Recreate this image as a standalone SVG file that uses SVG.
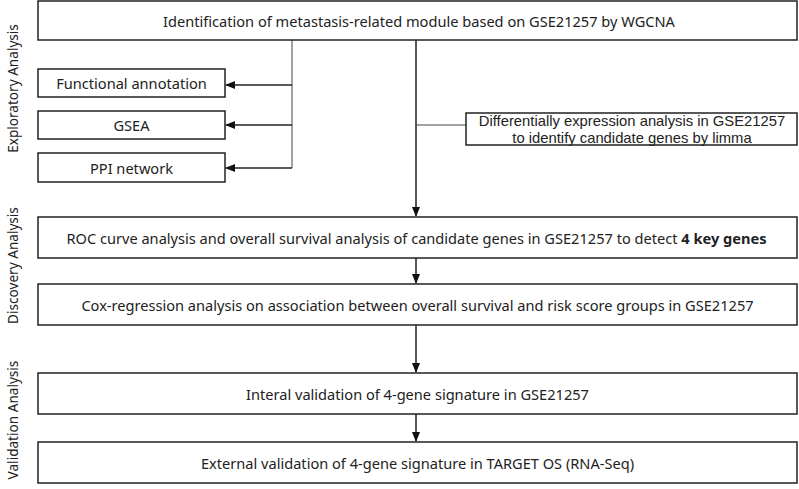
<svg xmlns="http://www.w3.org/2000/svg" width="799" height="489" viewBox="0 0 799 489">
<style>
.box{fill:#fff;stroke:#222;stroke-width:1.5}
.t{font-family:"Noto Sans","Liberation Sans",sans-serif;font-size:14.6px;fill:#222;text-anchor:middle;dominant-baseline:central}
.de{font-family:"Liberation Sans","Noto Sans",sans-serif;font-size:14.8px}
.side{font-family:"Noto Sans","Liberation Sans",sans-serif;font-size:13.6px;fill:#222;text-anchor:middle;dominant-baseline:central}
.ln{fill:none;stroke:#222;stroke-width:1.5}
.thin{fill:none;stroke:#444;stroke-width:1}
</style>
<defs>
<marker id="ah" markerWidth="10" markerHeight="8" refX="9" refY="4" orient="auto" markerUnits="userSpaceOnUse">
<path d="M0,0 L10,4 L0,8 Z" fill="#111"/>
</marker>
</defs>
<text class="side" transform="translate(12,88.5) rotate(-90)">Exploratory Analysis</text>
<text class="side" transform="translate(12,265.5) rotate(-90)">Discovery Analysis</text>
<text class="side" transform="translate(12,420) rotate(-90)">Validation Analysis</text>
<g id="connectors">
<path class="thin" d="M292,40 V168"/>
<path class="ln" d="M292,85 H226" marker-end="url(#ah)"/>
<path class="ln" d="M292,125 H226" marker-end="url(#ah)"/>
<path class="ln" d="M292,168 H226" marker-end="url(#ah)"/>
<path class="ln" d="M416,40 V216" marker-end="url(#ah)"/>
<path class="thin" d="M416,125 H466"/>
<path class="ln" d="M416,258 V283" marker-end="url(#ah)"/>
<path class="ln" d="M416,325 V372" marker-end="url(#ah)"/>
<path class="ln" d="M416,414 V441" marker-end="url(#ah)"/>
</g>
<g id="n-wgcna">
<rect class="box" x="38" y="1" width="759" height="39"/>
<text class="t" x="419" y="20.5">Identification of metastasis-related module based on GSE21257 by WGCNA</text>
</g>
<g id="n-func">
<rect class="box" x="38" y="69" width="187" height="28"/>
<text class="t" x="131.5" y="83">Functional annotation</text>
</g>
<g id="n-gsea">
<rect class="box" x="38" y="111" width="187" height="28"/>
<text class="t" x="131.5" y="125">GSEA</text>
</g>
<g id="n-ppi">
<rect class="box" x="38" y="153" width="187" height="29"/>
<text class="t" x="131.5" y="167.5">PPI network</text>
</g>
<g id="n-de">
<rect class="box" x="466" y="113" width="331" height="32"/>
<text class="t de" x="632" y="120.5">Differentially expression analysis in GSE21257</text>
<text class="t de" x="632" y="137.5">to identify candidate genes by limma</text>
</g>
<g id="n-roc">
<rect class="box" x="38" y="217" width="759" height="41"/>
<text class="t" x="416.5" y="237.5">ROC curve analysis and overall survival analysis of candidate genes in GSE21257 to detect <tspan font-weight="bold">4 key genes</tspan></text>
</g>
<g id="n-cox">
<rect class="box" x="38" y="284" width="759" height="41"/>
<text class="t" x="417.5" y="304.5">Cox-regression analysis on association between overall survival and risk score groups in GSE21257</text>
</g>
<g id="n-int">
<rect class="box" x="38" y="373" width="759" height="41"/>
<text class="t" x="417.5" y="393.5">Interal validation of 4-gene signature in GSE21257</text>
</g>
<g id="n-ext">
<rect class="box" x="38" y="442" width="759" height="41"/>
<text class="t" x="417.5" y="462.5">External validation of 4-gene signature in TARGET OS (RNA-Seq)</text>
</g>
</svg>
